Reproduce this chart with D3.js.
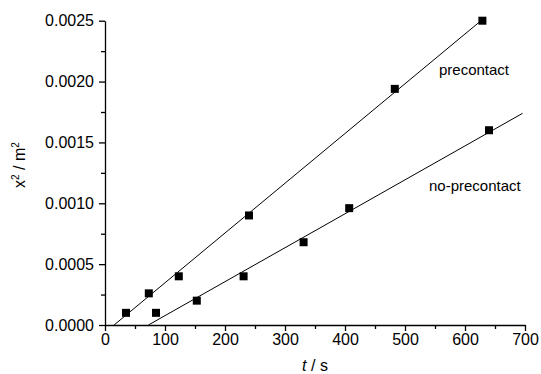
<!DOCTYPE html>
<html>
<head>
<meta charset="utf-8">
<script src="https://cdn.jsdelivr.net/npm/d3@7"></script>
<style>
  body { margin: 0; background: #fff; }
  svg { display: block; }
  text { font-family: "Liberation Sans", Arial, sans-serif; fill: #000; }
</style>
</head>
<body>
<script>
// data
let preT = [35, 73, 123, 240, 483, 629];
let preX2 = [0.0001, 0.00026, 0.0004, 0.0009, 0.00194, 0.0025];
let noT = [85, 153, 231, 331, 407, 640];
let noX2 = [0.0001, 0.0002, 0.0004, 0.00068, 0.00096, 0.0016];
// where each fit line stops on the right
let preFitEnd = 630;
let noFitEnd = 696;

let xTicks = [0, 100, 200, 300, 400, 500, 600, 700];
let yTicks = [0, 0.0005, 0.0010, 0.0015, 0.0020, 0.0025];

let w = 541;
let h = 374;
let svg;
let xScale, yScale;

// least squares fit, returns slope and intercept
function fit(xs, ys) {
  let mx = d3.mean(xs), my = d3.mean(ys);
  let sxy = d3.sum(xs, (x, i) => (x - mx) * (ys[i] - my));
  let sxx = d3.sum(xs, (x) => (x - mx) * (x - mx));
  let m = sxy / sxx;
  return { m: m, b: my - m * mx };
}

function drawSeries(ts, vals, endT) {
  let f = fit(ts, vals);
  let t0 = -f.b / f.m; // line starts on the x axis
  svg.append('line')
    .attr('x1', xScale(t0))
    .attr('y1', yScale(0))
    .attr('x2', xScale(endT))
    .attr('y2', yScale(f.m * endT + f.b))
    .style('stroke', '#000')
    .style('stroke-width', 1);

  let pts = ts.map((t, i) => ({ t: t, v: vals[i] }));
  let s = 8;
  svg.selectAll(null)
    .data(pts)
    .enter()
    .append('rect')
    .attr('x', (d) => xScale(d.t) - s / 2)
    .attr('y', (d) => yScale(d.v) - s / 2)
    .attr('width', s)
    .attr('height', s)
    .style('fill', '#000');
}

svg = d3.select('body').append('svg').attr('width', w).attr('height', h);

xScale = d3.scaleLinear().domain([0, 700]).range([105, 525]);
yScale = d3.scaleLinear().domain([0, 0.0025]).range([325, 20.7]);

// x axis with major + minor ticks
let xAxis = d3.axisBottom(xScale)
  .tickValues(xTicks)
  .tickSizeInner(6)
  .tickSizeOuter(0)
  .tickPadding(3)
  .tickFormat(d3.format('d'));
let xAxisGroup = svg.append('g')
  .attr('transform', `translate(0, ${yScale(0)})`)
  .call(xAxis);
xAxisGroup.selectAll('.tick')
  .filter(null);
svg.append('g')
  .attr('transform', `translate(0, ${yScale(0)})`)
  .call(d3.axisBottom(xScale).tickValues(d3.range(50, 700, 100)).tickSize(4).tickFormat(''))
  .select('.domain').remove();

let yAxis = d3.axisLeft(yScale)
  .tickValues(yTicks)
  .tickSizeInner(6)
  .tickSizeOuter(0)
  .tickPadding(5)
  .tickFormat(d3.format('.4f'));
let yAxisGroup = svg.append('g')
  .attr('transform', `translate(${xScale(0)}, 0)`)
  .call(yAxis);
svg.append('g')
  .attr('transform', `translate(${xScale(0)}, 0)`)
  .call(d3.axisLeft(yScale).tickValues(d3.range(0.00025, 0.0025, 0.0005)).tickSize(4).tickFormat(''))
  .select('.domain').remove();

svg.selectAll('.domain').style('stroke-width', 1.3);
svg.selectAll('.tick line').style('stroke-width', 1.3);
svg.selectAll('.tick text')
  .style('font-size', '16px')
  .style('font-family', '"Liberation Sans", Arial, sans-serif');

// series
drawSeries(preT, preX2, preFitEnd);
drawSeries(noT, noX2, noFitEnd);

// series labels
svg.append('text')
  .attr('x', 439).attr('y', 75)
  .style('font-size', '15px')
  .text('precontact');
svg.append('text')
  .attr('x', 429).attr('y', 191)
  .style('font-size', '15px')
  .text('no-precontact');

// axis titles
let xt = svg.append('text')
  .attr('x', 315).attr('y', 371)
  .attr('text-anchor', 'middle')
  .style('font-size', '16px');
xt.append('tspan').style('font-style', 'italic').text('t');
xt.append('tspan').text('  / s');

let yt = svg.append('text')
  .attr('transform', 'translate(25, 165) rotate(-90)')
  .attr('text-anchor', 'middle')
  .style('font-size', '16px');
yt.append('tspan').text('x');
yt.append('tspan').attr('dy', -6).style('font-size', '10px').text('2');
yt.append('tspan').attr('dy', 6).text(' / m');
yt.append('tspan').attr('dy', -6).style('font-size', '10px').text('2');
</script>
</body>
</html>
